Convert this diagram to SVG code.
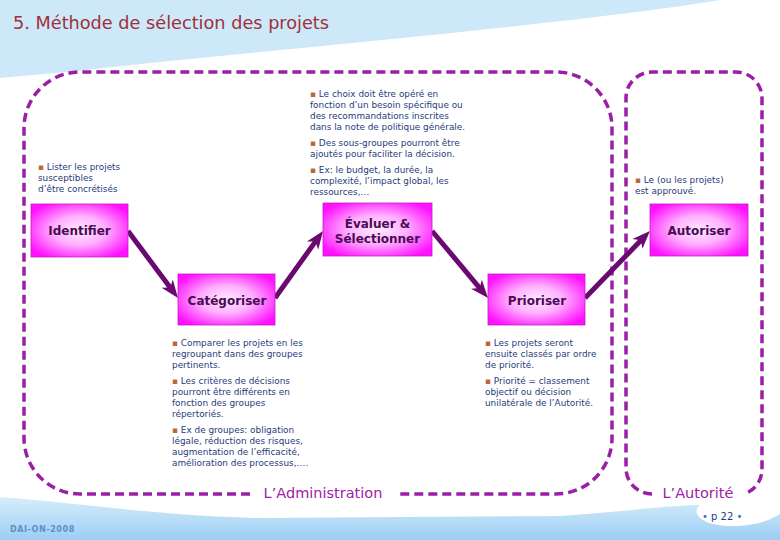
<svg xmlns="http://www.w3.org/2000/svg" width="780" height="540" viewBox="0 0 780 540">
<defs>
<radialGradient id="ng" cx="50%" cy="50%" r="60%">
<stop offset="0" stop-color="#ffeaff"/>
<stop offset="0.45" stop-color="#ffb0ff"/>
<stop offset="1" stop-color="#ff10ff"/>
</radialGradient>
<linearGradient id="bg" x1="0" y1="0" x2="0" y2="1">
<stop offset="0" stop-color="#d6eefb"/>
<stop offset="1" stop-color="#9ccdf3"/>
</linearGradient>
<marker id="ah" markerUnits="userSpaceOnUse" markerWidth="18" markerHeight="16" viewBox="0 0 18 16" refX="8" refY="8" orient="auto">
<path d="M0,1 L18,8 L0,15 L5,8 Z" fill="#6a0a70"/>
</marker>
</defs>
<style>
.box{fill:url(#ng);stroke:#c020c0;stroke-width:0.8}
.bl{font-family:"DejaVu Sans","Liberation Sans",sans-serif;font-weight:bold;font-size:12px;fill:#4a0a55;text-anchor:middle}
.tx{font-family:"DejaVu Sans","Liberation Sans",sans-serif;font-size:8.9px;fill:#1f3c7a}
.bu{fill:#b8683c}
.dash{fill:none;stroke:#9a1fa6;stroke-width:3.5;stroke-dasharray:9 5}
.zl{font-family:"DejaVu Sans","Liberation Sans",sans-serif;font-size:14.5px;fill:#a020a8;text-anchor:middle}
.ar{stroke:#6a0a70;stroke-width:5;fill:none;marker-end:url(#ah)}
</style>
<rect width="780" height="540" fill="#ffffff"/>
<path d="M0,0 H720 C600,20 360,42 180,60 C110,67 50,74 0,78 Z" fill="#cde9f9"/>
<path d="M0,497 C80,503 160,516 260,518 L560,516 C620,512 660,506 700,505 C690,513 702,526 732,526 C758,526 772,519 780,514 V540 H0 Z" fill="url(#bg)"/>
<text x="13" y="29" font-family="DejaVu Sans, Liberation Sans, sans-serif" font-size="17.7" fill="#a0303a">5. Méthode de sélection des projets</text>
<text x="10" y="532" font-family="DejaVu Sans, Liberation Sans, sans-serif" font-size="8" font-weight="bold" fill="#5b8fc8" letter-spacing="0.6">DAI-ON-2008</text>
<text x="702" y="520" font-family="DejaVu Sans, Liberation Sans, sans-serif" font-size="10" fill="#1f3c7a"><tspan fill="#3a70c0">•</tspan> p 22 <tspan fill="#3a70c0">•</tspan></text>

<g id="zone-administration">
<path class="dash" d="M250,494 H80 A56,56 0 0 1 24,438 V128 A56,56 0 0 1 80,72 H556 A56,56 0 0 1 612,128 V438 A56,56 0 0 1 556,494 H396"/>
<text class="zl" x="323" y="498">L’Administration</text>
</g>
<g id="zone-autorite">
<path class="dash" d="M652,494 A26,26 0 0 1 626,468 V98 A26,26 0 0 1 652,72 H736 A26,26 0 0 1 762,98 V468 A26,26 0 0 1 744,494"/>
<text class="zl" x="698" y="498">L’Autorité</text>
</g>

<g id="connectors">
<line class="ar" x1="128" y1="231" x2="172" y2="290"/>
<line class="ar" x1="275" y1="298" x2="317.2" y2="239.1"/>
<line class="ar" x1="432" y1="231" x2="481.6" y2="290.3"/>
<line class="ar" x1="585" y1="298" x2="643" y2="238.2"/>
</g>

<g id="identifier">
<rect class="box" x="31" y="204" width="97" height="53"/>
<text class="bl" x="79.5" y="235">Identifier</text>
</g>
<g id="evaluer">
<rect class="box" x="323" y="203" width="109" height="53"/>
<text class="bl" x="377.5" y="228">Évaluer &amp;</text>
<text class="bl" x="377.5" y="243">Sélectionner</text>
</g>
<g id="autoriser">
<rect class="box" x="650" y="204" width="98" height="52"/>
<text class="bl" x="699" y="235">Autoriser</text>
</g>
<g id="categoriser">
<rect class="box" x="178" y="274" width="97" height="51"/>
<text class="bl" x="227" y="305">Catégoriser</text>
</g>
<g id="prioriser">
<rect class="box" x="488" y="274" width="97" height="51"/>
<text class="bl" x="537" y="305">Prioriser</text>
</g>

<g id="notes-evaluer">
<text class="tx" x="310" y="97"><tspan class="bu">▪</tspan> Le choix doit être opéré en</text>
<text class="tx" x="310" y="108">fonction d’un besoin spécifique ou</text>
<text class="tx" x="310" y="119">des recommandations inscrites</text>
<text class="tx" x="310" y="130">dans la note de politique générale.</text>
<text class="tx" x="310" y="146"><tspan class="bu">▪</tspan> Des sous-groupes pourront être</text>
<text class="tx" x="310" y="157">ajoutés pour faciliter la décision.</text>
<text class="tx" x="310" y="173"><tspan class="bu">▪</tspan> Ex: le budget, la durée, la</text>
<text class="tx" x="310" y="184">complexité, l’impact global, les</text>
<text class="tx" x="310" y="195">ressources,…</text>
</g>
<g id="notes-identifier">
<text class="tx" x="38" y="170"><tspan class="bu">▪</tspan> Lister les projets</text>
<text class="tx" x="38" y="181">susceptibles</text>
<text class="tx" x="38" y="192">d’être concrétisés</text>
</g>
<g id="notes-autoriser">
<text class="tx" x="635" y="183"><tspan class="bu">▪</tspan> Le (ou les projets)</text>
<text class="tx" x="635" y="194">est approuvé.</text>
</g>
<g id="notes-categoriser">
<text class="tx" x="172" y="346"><tspan class="bu">▪</tspan> Comparer les projets en les</text>
<text class="tx" x="172" y="357">regroupant dans des groupes</text>
<text class="tx" x="172" y="368">pertinents.</text>
<text class="tx" x="172" y="384"><tspan class="bu">▪</tspan> Les critères de décisions</text>
<text class="tx" x="172" y="395">pourront être différents en</text>
<text class="tx" x="172" y="406">fonction des groupes</text>
<text class="tx" x="172" y="417">répertoriés.</text>
<text class="tx" x="172" y="433"><tspan class="bu">▪</tspan> Ex de groupes: obligation</text>
<text class="tx" x="172" y="444">légale, réduction des risques,</text>
<text class="tx" x="172" y="455">augmentation de l’efficacité,</text>
<text class="tx" x="172" y="466">amélioration des processus,….</text>
</g>
<g id="notes-prioriser">
<text class="tx" x="485" y="346"><tspan class="bu">▪</tspan> Les projets seront</text>
<text class="tx" x="485" y="357">ensuite classés par ordre</text>
<text class="tx" x="485" y="368">de priorité.</text>
<text class="tx" x="485" y="384"><tspan class="bu">▪</tspan> Priorité = classement</text>
<text class="tx" x="485" y="395">objectif ou décision</text>
<text class="tx" x="485" y="406">unilatérale de l’Autorité.</text>
</g>
</svg>
